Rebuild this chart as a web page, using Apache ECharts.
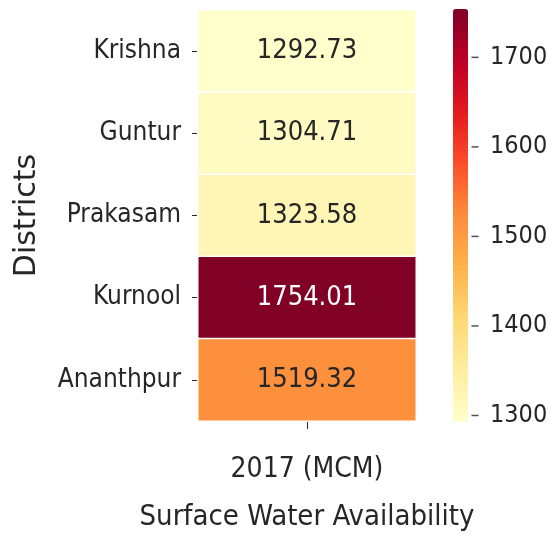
<!DOCTYPE html>
<html>
<head>
<meta charset="utf-8">
<script src="https://cdn.jsdelivr.net/npm/echarts@6/dist/echarts.min.js"></script>
<style>
  html, body { margin: 0; padding: 0; background: #fff; }
  #chart { width: 553px; height: 537px; }
</style>
</head>
<body>
<div id="chart"></div>
<script>
const districts = ['Krishna', 'Guntur', 'Prakasam', 'Kurnool', 'Ananthpur']
const years = ['2017 (MCM)']
const water = [1292.73, 1304.71, 1323.58, 1754.01, 1519.32]
const cbTicks = [1300, 1400, 1500, 1600, 1700]

const font = 'DejaVu Sans Condensed, DejaVu Sans, sans-serif'
const ink = '#262626'
const vmin = Math.min(...water)
const vmax = Math.max(...water)

const cells = water.map((v, i) => ({
  value: [0, i, v],
  label: { color: v > 1650 ? '#ffffff' : ink }
}))

const chart = echarts.init(document.getElementById('chart'))
chart.setOption({
  animation: false,
  grid: [
    { left: 198, right: 137, top: 10, bottom: 114 },
    { left: 453, width: 16, top: 9, height: 413 } // colorbar axis
  ],
  xAxis: [
    {
      type: 'category',
      data: years,
      name: 'Surface Water Availability',
      nameLocation: 'middle',
      nameGap: 82,
      nameTextStyle: { fontFamily: font, fontSize: 29, color: ink },
      axisLine: { show: false },
      axisTick: { show: true, alignWithLabel: true, length: 8, lineStyle: { color: ink } },
      axisLabel: { fontFamily: font, fontSize: 28, color: ink, margin: 35 },
      splitLine: { show: false }
    },
    { gridIndex: 1, type: 'value', min: 0, max: 1, show: false }
  ],
  yAxis: [
    {
      type: 'category',
      data: districts,
      inverse: true,
      name: 'Districts',
      nameLocation: 'middle',
      nameGap: 156,
      nameRotate: 90,
      nameTextStyle: { fontFamily: 'DejaVu Sans, sans-serif', fontSize: 30, color: ink },
      axisLine: { show: false },
      axisTick: { show: true, alignWithLabel: true, length: 6, lineStyle: { color: ink } },
      axisLabel: { fontFamily: font, fontSize: 26, color: ink, margin: 17 },
      splitLine: { show: false }
    },
    {
      gridIndex: 1,
      type: 'value',
      position: 'right',
      min: vmin,
      max: vmax,
      axisLine: { show: false },
      axisTick: { show: false },
      axisLabel: {
        fontFamily: font, fontSize: 25, color: ink, margin: 21,
        customValues: cbTicks,
        formatter: v => String(v)
      },
      splitLine: { show: false }
    }
  ],
  visualMap: {
    type: 'continuous',
    seriesIndex: 0,
    min: vmin,
    max: vmax,
    calculable: false,
    left: 453,
    top: 9,
    itemWidth: 15,
    itemHeight: 413,
    padding: 0,
    textStyle: { color: 'rgba(0,0,0,0)' },
    inRange: {
      color: ['#ffffcc', '#ffeda0', '#fed976', '#feb24c', '#fd8d3c', '#fc4e2a', '#e31a1c', '#bd0026', '#800026']
    }
  },
  series: [
    {
      type: 'heatmap',
      data: cells,
      itemStyle: { borderColor: '#ffffff', borderWidth: 1.5 },
      label: {
        show: true,
        fontFamily: font,
        fontSize: 27,
        formatter: p => p.value[2].toFixed(2)
      },
      emphasis: { disabled: true }
    },
    {
      // colorbar tick marks
      type: 'scatter',
      xAxisIndex: 1,
      yAxisIndex: 1,
      data: cbTicks.map(t => [1, t]),
      symbol: 'rect',
      symbolSize: [7, 1.5],
      symbolOffset: [6, 0],
      itemStyle: { color: ink },
      silent: true
    }
  ]
})
</script>
</body>
</html>
